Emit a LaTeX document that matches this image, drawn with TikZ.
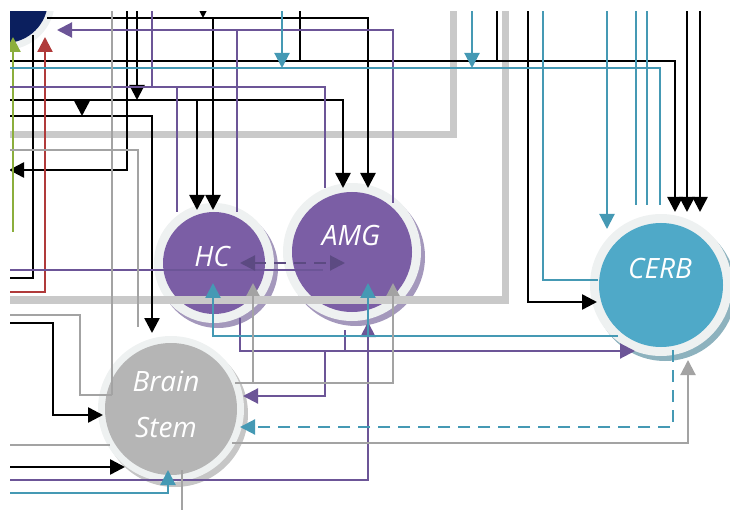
\documentclass[tikz,border=0pt]{standalone}
\usepackage{fontspec}
\setmainfont{Open Sans}
\usetikzlibrary{arrows.meta}
\definecolor{pur}{HTML}{6C5597}
\definecolor{purnode}{HTML}{7B5EA5}
\definecolor{purdk}{HTML}{5C4A82}
\definecolor{purshadow}{HTML}{A498BC}
\definecolor{tl}{HTML}{4599B4}
\definecolor{cerbfill}{HTML}{4FA9C8}
\definecolor{cerbshadow}{HTML}{8DB2BE}
\definecolor{gr}{HTML}{A3A3A3}
\definecolor{grthick}{HTML}{C9C9C9}
\definecolor{bsfill}{HTML}{B5B5B5}
\definecolor{bsshadow}{HTML}{C6C6C6}
\definecolor{navy}{HTML}{0B1F5E}
\definecolor{halo}{HTML}{EEF1F1}
\definecolor{redc}{HTML}{B03A3A}
\definecolor{grn}{HTML}{8BAE3C}
\tikzset{
  bk/.style={line width=2.5pt, black},
  pu/.style={line width=2.1pt, pur},
  te/.style={line width=2.1pt, tl},
  gy/.style={line width=2.1pt, gr},
  gt/.style={line width=7pt, grthick},
  ar/.style={-{Triangle[length=15pt,width=15pt]}},
  ars/.style={-{Triangle[length=13pt,width=13pt]}},
  dsh/.style={dash pattern=on 12pt off 8pt},
  disc/.style={circle, inner sep=0pt},
  lbl/.style={text=white, anchor=base, inner sep=0pt, font=\fontsize{28}{32}\selectfont\itshape},
}
\begin{document}
\begin{tikzpicture}[x=1pt,y=-1pt]
\useasboundingbox (0,0) rectangle (730,510);
\begin{scope}
\clip (10,12) rectangle (730,510);
% navy node (partial)
\fill[halo] (5,0) circle (50);
\node[disc, fill=navy, minimum size=86pt] (nav) at (5,0) {};
% HC
\fill[purshadow] (218,268) circle (60);
\fill[halo] (214,263) circle (60);
\node[disc, fill=purnode, minimum size=102pt] (hc) at (214,263) {};
% AMG
\fill[purshadow] (356,257) circle (69);
\fill[halo] (352,252) circle (69);
\node[disc, fill=purnode, minimum size=120pt] (amg) at (352,252) {};
% Brain Stem
\fill[bsshadow] (175,414) circle (73);
\fill[halo] (171,409) circle (73);
\node[disc, fill=bsfill, minimum size=132pt] (bs) at (171,409) {};
% CERB
\fill[cerbshadow] (665,290) circle (71);
\fill[halo] (661,285) circle (71);
\node[disc, fill=cerbfill, minimum size=124pt] (cerb) at (661,285) {};

% thick gray
\draw[gt] (5,135) -- (453,135) -- (453,5);
\draw[gt] (5,300) -- (505,300) -- (505,5);

% black
\draw[bk,ar] (47,18) -- (368,18) -- (368,188);
\draw[bk,ar] (213,18) -- (213,210);
\draw[bk,ar] (203,2) -- (203,18);
\draw[bk,ar] (5,61) -- (675,61) -- (675,212);
\draw[bk] (300,5) -- (300,61);
\draw[bk] (497,5) -- (497,61);
\draw[bk,ar] (528,5) -- (528,302) -- (597,302);
\draw[bk,ar] (687,5) -- (687,212);
\draw[bk,ar] (700,5) -- (700,212);
\draw[bk,ar] (137,5) -- (137,100);
\draw[bk,ar] (5,100) -- (343,100) -- (343,188);
\draw[bk,ar] (197,100) -- (197,210);
\draw[bk,ar] (82,100) -- (82,116);
\draw[bk,ar] (5,116) -- (152,116) -- (152,333);
\draw[bk,ar] (127,5) -- (127,170) -- (9,170);
\draw[bk] (33,35) -- (33,278) -- (5,278);
\draw[bk,ar] (5,323) -- (53,323) -- (53,415) -- (103,415);
\draw[bk,ar] (5,467) -- (125,467);

% red / green
\draw[line width=2.3pt, redc, ar] (5,292) -- (45,292) -- (45,37);
\draw[line width=2.3pt, grn, ar] (13,232) -- (13,37);

% purple
\draw[pu] (237,212) -- (237,30);
\draw[pu,ar] (393,203) -- (393,30) -- (57,30);
\draw[pu] (5,87) -- (325,87) -- (325,188);
\draw[pu] (152,5) -- (152,87);
\draw[pu] (177,87) -- (177,212);
\draw[pu] (5,270) -- (323,270);
\draw[line width=2.1pt, purdk, dsh, {Triangle[length=15pt,width=15pt]}-{Triangle[length=15pt,width=15pt]}] (240,263) -- (345,263);
\draw[pu,ar] (5,480) -- (368,480) -- (368,322);
\draw[pu,ar] (240,318) -- (240,351) -- (635,351);
\draw[pu] (345,330) -- (345,351);
\draw[pu,ar] (325,351) -- (325,396) -- (243,396);

% teal
\draw[te] (5,68) -- (660,68) -- (660,205);
\draw[te,ar] (282,5) -- (282,68);
\draw[te,ar] (472,5) -- (472,68);
\draw[te] (543,5) -- (543,280) -- (598,280);
\draw[te,ar] (607,5) -- (607,229);
\draw[te] (636,5) -- (636,205);
\draw[te] (647,5) -- (647,205);
\draw[te,ar] (618,336) -- (213,336) -- (213,283);
\draw[te,ar] (368,336) -- (368,283);
\draw[te,ar,dsh] (673,350) -- (673,427) -- (240,427);
\draw[te,ar] (5,493) -- (168,493) -- (168,470);

% gray
\draw[gy] (112,5) -- (112,395);
\draw[gy] (5,315) -- (80,315) -- (80,395) -- (112,395);
\draw[gy] (5,150) -- (138,150) -- (138,327);
\draw[gy,ars] (235,383) -- (393,383) -- (393,283);
\draw[gy,ars] (253,383) -- (253,283);
\draw[gy,ar] (232,443) -- (688,443) -- (688,360);
\draw[gy] (5,445) -- (110,445);
\draw[gy] (182,470) -- (182,515);

% labels
\node[lbl] (hct) at (212,267) {HC};
\node[lbl] (amgt) at (351,246) {AMG};
\node[lbl] (cerbt) at (660,279) {CERB};
\node[lbl] (bst1) at (166,391) {Brain};
\node[lbl] (bst2) at (166,437) {Stem};
\end{scope}
\end{tikzpicture}
\end{document}
